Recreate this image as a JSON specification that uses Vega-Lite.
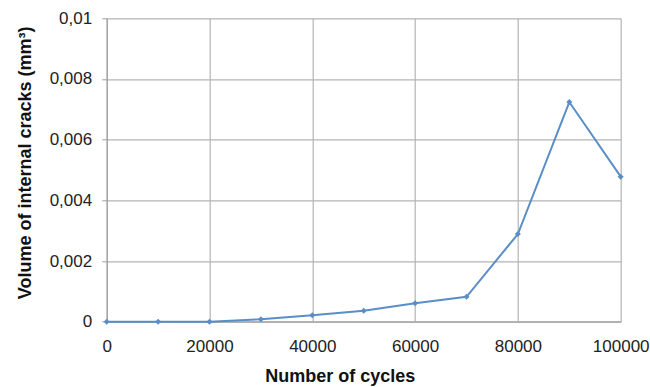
{
  "$schema": "https://vega.github.io/schema/vega-lite/v6.json",
  "autosize": "none",
  "width": 514,
  "height": 303.4,
  "padding": {"left": 106.7, "top": 18.3, "right": 29.3, "bottom": 65.3},
  "background": "white",
  "data": {
    "values": [
      {"cycles": 0, "volume": 0},
      {"cycles": 10000, "volume": 0},
      {"cycles": 20000, "volume": 0},
      {"cycles": 30000, "volume": 0.00008},
      {"cycles": 40000, "volume": 0.00021},
      {"cycles": 50000, "volume": 0.00036},
      {"cycles": 60000, "volume": 0.00061},
      {"cycles": 70000, "volume": 0.00082},
      {"cycles": 80000, "volume": 0.00289},
      {"cycles": 90000, "volume": 0.00724},
      {"cycles": 100000, "volume": 0.00478}
    ]
  },
  "config": {
    "view": {"stroke": null},
    "font": "Liberation Sans",
    "axis": {
      "gridColor": "#b4b4b4",
      "gridWidth": 1.2,
      "gridOpacity": 1,
      "domainColor": "#a0a0a0",
      "domainWidth": 1.2,
      "tickColor": "#a0a0a0",
      "labelFont": "Liberation Sans",
      "labelFontSize": 17,
      "labelColor": "#222222",
      "titleFont": "Liberation Sans",
      "titleFontSize": 18,
      "titleFontWeight": "bold",
      "titleColor": "#111111"
    }
  },
  "mark": {
    "type": "line",
    "color": "#5a8ec6",
    "strokeWidth": 2,
    "point": {"shape": "diamond", "size": 36, "filled": true, "color": "#5a8ec6"}
  },
  "encoding": {
    "x": {
      "field": "cycles",
      "type": "quantitative",
      "scale": {"domain": [0, 100000], "nice": false},
      "axis": {
        "values": [0, 20000, 40000, 60000, 80000, 100000],
        "format": "d",
        "ticks": false,
        "labelPadding": 17,
        "labelFlush": false,
        "title": "Number of cycles",
        "titleX": 233,
        "titleY": 60,
        "titleBaseline": "alphabetic"
      }
    },
    "y": {
      "field": "volume",
      "type": "quantitative",
      "scale": {"domain": [0, 0.01], "nice": false},
      "axis": {
        "values": [0, 0.002, 0.004, 0.006, 0.008, 0.01],
        "labelExpr": "replace(format(datum.value, '~g'), '.', ',')",
        "tickSize": 5,
        "labelPadding": 10,
        "labelFlush": false,
        "title": "Volume of internal cracks (mm³)",
        "titleX": -76,
        "titleY": 144,
        "titleBaseline": "alphabetic",
        "titleAngle": -90
      }
    }
  }
}
